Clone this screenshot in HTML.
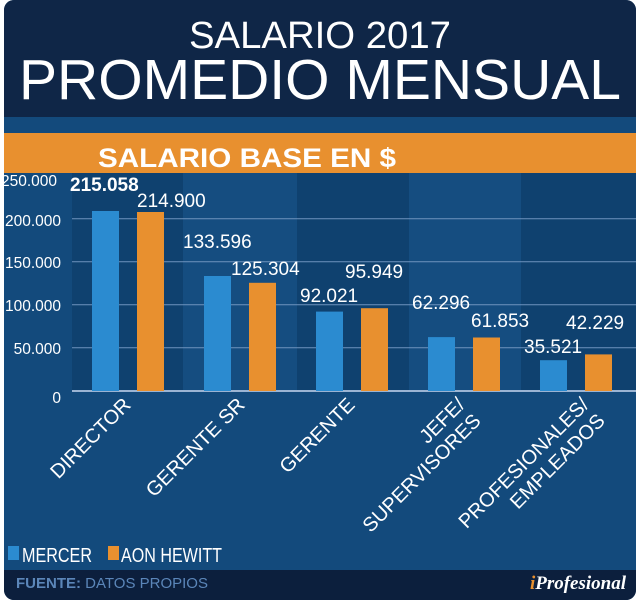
<!DOCTYPE html>
<html><head><meta charset="utf-8"><style>body{margin:0;background:#fff}svg{display:block}</style></head><body>
<svg width="640" height="602" viewBox="0 0 640 602" xmlns="http://www.w3.org/2000/svg" font-family="Liberation Sans, Arial, sans-serif">
<defs><clipPath id="c"><rect x="4" y="0" width="632" height="600" rx="10"/></clipPath></defs>
<g clip-path="url(#c)">
<rect x="0" y="0" width="640" height="602" fill="#134a7c"/>
<rect x="0" y="0" width="640" height="117" fill="#0f2647"/>
<rect x="0" y="133" width="640" height="40" fill="#e8902f"/>
<rect x="72" y="173" width="111" height="218" fill="#0f416f"/>
<rect x="183" y="173" width="114" height="218" fill="#154d80"/>
<rect x="297" y="173" width="112" height="218" fill="#0f416f"/>
<rect x="409" y="173" width="112" height="218" fill="#154d80"/>
<rect x="521" y="173" width="115" height="218" fill="#0f416f"/>
<rect x="0" y="570" width="640" height="32" fill="#0c1f3d"/>
</g>
<g stroke="#6f93bd" stroke-width="1">
<line x1="72" y1="218.7" x2="636" y2="218.7"/>
<line x1="72" y1="261.7" x2="636" y2="261.7"/>
<line x1="72" y1="304.7" x2="636" y2="304.7"/>
<line x1="72" y1="347.7" x2="636" y2="347.7"/>
</g>
<line x1="72" y1="391" x2="636" y2="391" stroke="#9bb4d3" stroke-width="2"/>
<g fill="#fff" text-anchor="middle">
<text x="320" y="48" font-size="38" textLength="262" lengthAdjust="spacingAndGlyphs">SALARIO 2017</text>
<text x="320" y="99" font-size="57" textLength="602" lengthAdjust="spacingAndGlyphs">PROMEDIO MENSUAL</text>
</g>
<text x="98" y="167" fill="#fff" font-size="27" font-weight="bold" textLength="298" lengthAdjust="spacingAndGlyphs">SALARIO BASE EN $</text>
<g fill="#fff" font-size="15.5" text-anchor="end">
<text x="57" y="186">250.000</text>
<text x="61" y="226">200.000</text>
<text x="61" y="268">150.000</text>
<text x="61" y="311">100.000</text>
<text x="61" y="354">50.000</text>
<text x="61" y="403">0</text>
</g>
<g fill="#2b8bd0">
<rect x="92" y="211" width="27" height="180"/>
<rect x="204" y="276" width="27" height="115"/>
<rect x="316" y="311.6" width="27" height="79.4"/>
<rect x="428" y="337.1" width="27" height="53.9"/>
<rect x="540" y="360.2" width="27" height="30.8"/>
</g>
<g fill="#e8902f">
<rect x="137" y="212" width="27" height="179"/>
<rect x="249" y="282.8" width="27" height="108.2"/>
<rect x="361" y="308.2" width="27" height="82.8"/>
<rect x="473" y="337.5" width="27" height="53.5"/>
<rect x="585" y="354.4" width="27" height="36.6"/>
</g>
<g fill="#fff" font-size="19">
<text x="70" y="191" font-weight="bold">215.058</text>
<text x="137" y="207">214.900</text>
<text x="183" y="248">133.596</text>
<text x="231" y="275">125.304</text>
<text x="300" y="302">92.021</text>
<text x="345" y="278">95.949</text>
<text x="412" y="309">62.296</text>
<text x="471" y="327">61.853</text>
<text x="524" y="353">35.521</text>
<text x="566" y="329">42.229</text>
</g>
<g fill="#fff" font-size="20" text-anchor="end">
<text transform="translate(132,406) rotate(-45)">DIRECTOR</text>
<text transform="translate(246,406) rotate(-45)">GERENTE SR</text>
<text transform="translate(356,406) rotate(-45)">GERENTE</text>
<text transform="translate(466,406) rotate(-45)">JEFE/</text>
<text transform="translate(482,422) rotate(-45)">SUPERVISORES</text>
<text transform="translate(590,406) rotate(-45)">PROFESIONALES/</text>
<text transform="translate(606,422) rotate(-45)">EMPLEADOS</text>
</g>
<rect x="8" y="546" width="11" height="14" fill="#2b8bd0"/>
<text x="22" y="562" fill="#fff" font-size="20" textLength="70" lengthAdjust="spacingAndGlyphs">MERCER</text>
<rect x="108" y="546" width="11" height="14" fill="#e8902f"/>
<text x="121" y="562" fill="#fff" font-size="20" textLength="101" lengthAdjust="spacingAndGlyphs">AON HEWITT</text>
<text x="16" y="588" fill="#5b86b9" font-size="15"><tspan font-weight="bold">FUENTE:</tspan> DATOS PROPIOS</text>
<text x="626" y="589" fill="#fff" font-size="19" font-style="italic" font-weight="bold" font-family="Liberation Serif, serif" text-anchor="end"><tspan fill="#e8902f">i</tspan>Profesional</text>
</svg>
</body></html>
